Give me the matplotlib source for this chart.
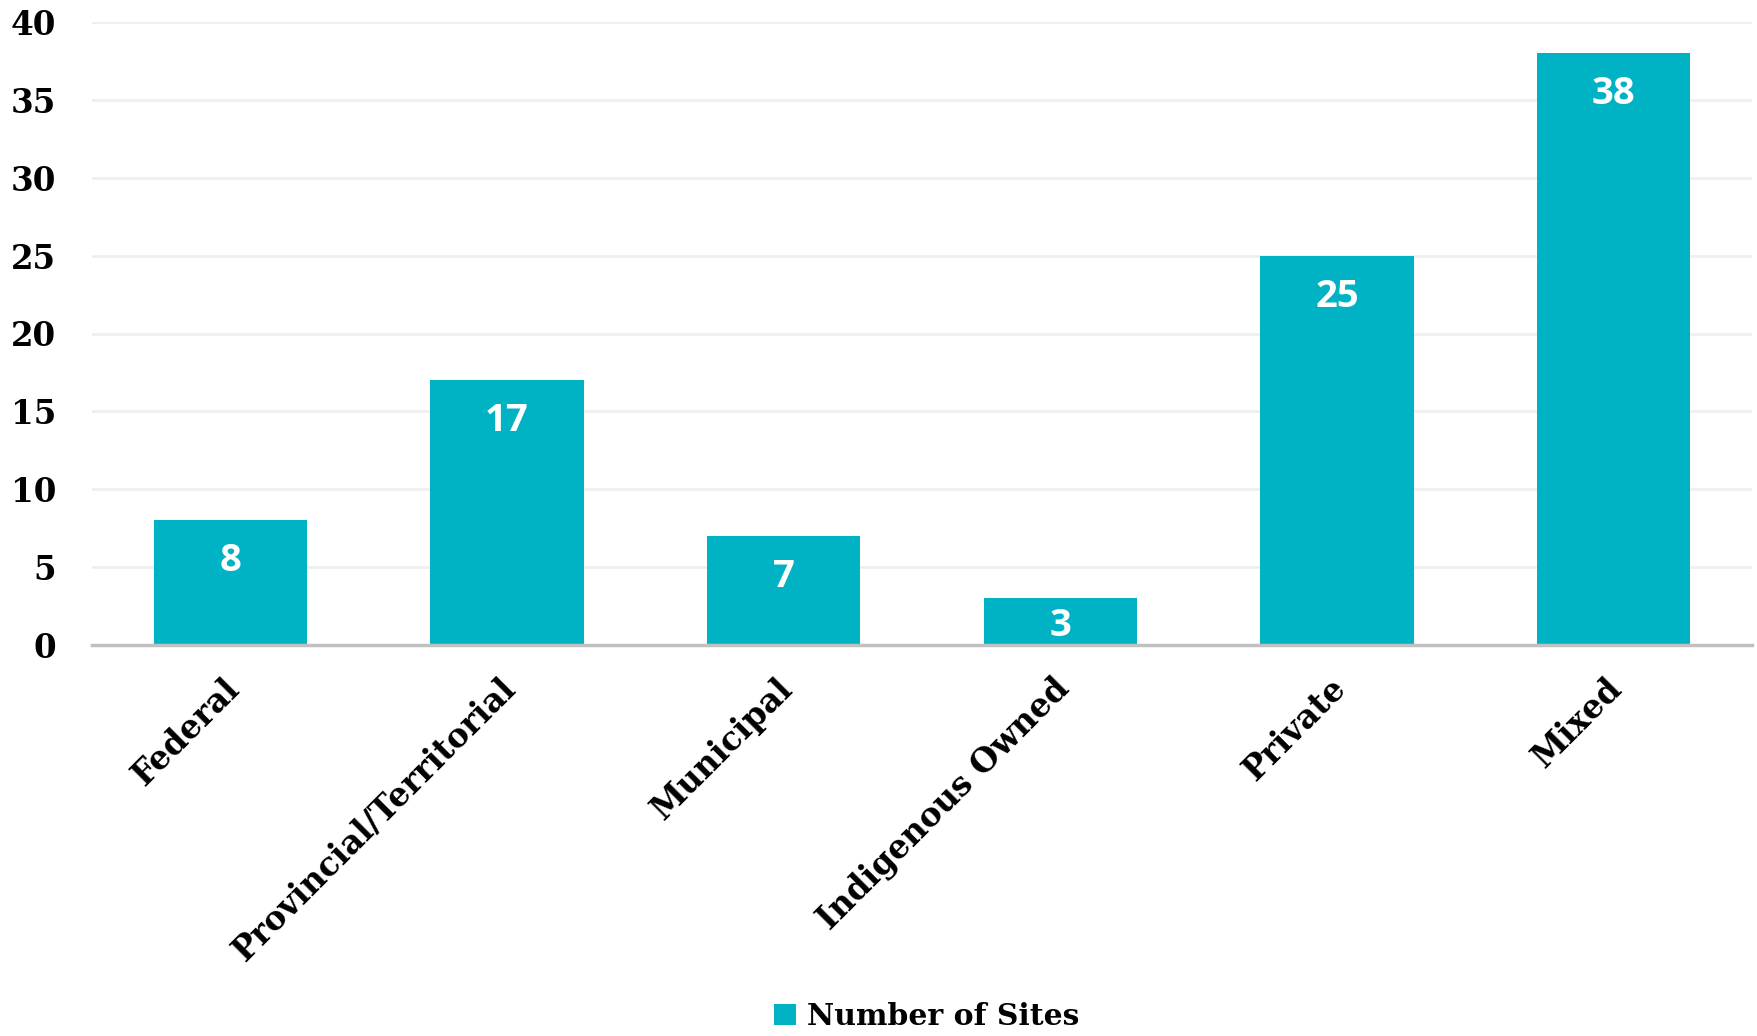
import matplotlib
matplotlib.use("Agg")
import matplotlib.pyplot as plt
import matplotlib.transforms as mtransforms
from matplotlib.patches import Patch

categories = ["Federal", "Provincial/Territorial", "Municipal",
              "Indigenous Owned", "Private", "Mixed"]
sites = [8, 17, 7, 3, 25, 38]
y_ticks = [0, 5, 10, 15, 20, 25, 30, 35, 40]
series_name = "Number of Sites"

bar_color = "#00B3C4"
serif = ["DejaVu Serif"]
sans = ["Open Sans", "DejaVu Sans"]

fig = plt.figure(figsize=(17.58, 10.36), dpi=100)
ax = fig.add_axes([92 / 1758, 1 - 645 / 1036, 1660 / 1758, 623 / 1036])

x = list(range(len(categories)))
bars = ax.bar(x, sites, width=0.555, color=bar_color, zorder=3)

ax.set_xlim(-0.5, len(categories) - 0.5)
ax.set_ylim(0, 40)
ax.set_yticks(y_ticks)
ax.set_yticklabels([str(v) for v in y_ticks], fontfamily=serif,
                   fontweight="bold", fontsize=23.5)
ax.set_xticks(x)
ax.set_xticklabels(categories, rotation=45, ha="right",
                   rotation_mode="anchor", fontfamily=serif,
                   fontweight="bold", fontsize=23.5)
ax.tick_params(axis="both", length=0)
ax.tick_params(axis="y", pad=26)
ax.tick_params(axis="x", pad=17)

# nudge the slanted category labels slightly left
shift = mtransforms.ScaledTranslation(-8 / 100, -3 / 100, fig.dpi_scale_trans)
for lbl in ax.get_xticklabels():
    lbl.set_transform(lbl.get_transform() + shift)

ax.grid(axis="y", color="#efefef", linewidth=2, zorder=0)
for side in ("top", "right", "left"):
    ax.spines[side].set_visible(False)
ax.spines["bottom"].set_color("#c0c0c0")
ax.spines["bottom"].set_linewidth(2.5)
ax.spines["bottom"].set_zorder(4)

# value labels sit near the top of each bar, centred when the bar is short
px_per_unit = 623 / 40
for rect, v in zip(bars, sites):
    offset_px = min(37.0, v * px_per_unit / 2) + 4
    ax.annotate(str(v), (rect.get_x() + rect.get_width() / 2, v),
                xytext=(0, -offset_px * 0.72), textcoords="offset points",
                ha="center", va="center", color="white",
                fontfamily=sans, fontweight="bold", fontsize=27.5, zorder=5)

handle = Patch(facecolor=bar_color, edgecolor="none", label=series_name)
fig.legend(handles=[handle], loc="lower center",
           bbox_to_anchor=(0.527, -0.021), frameon=False,
           prop={"family": serif, "weight": "bold", "size": 21.5},
           handlelength=0.75, handleheight=0.75, handletextpad=0.35)

fig.savefig("out.png", dpi=100, facecolor="white")
